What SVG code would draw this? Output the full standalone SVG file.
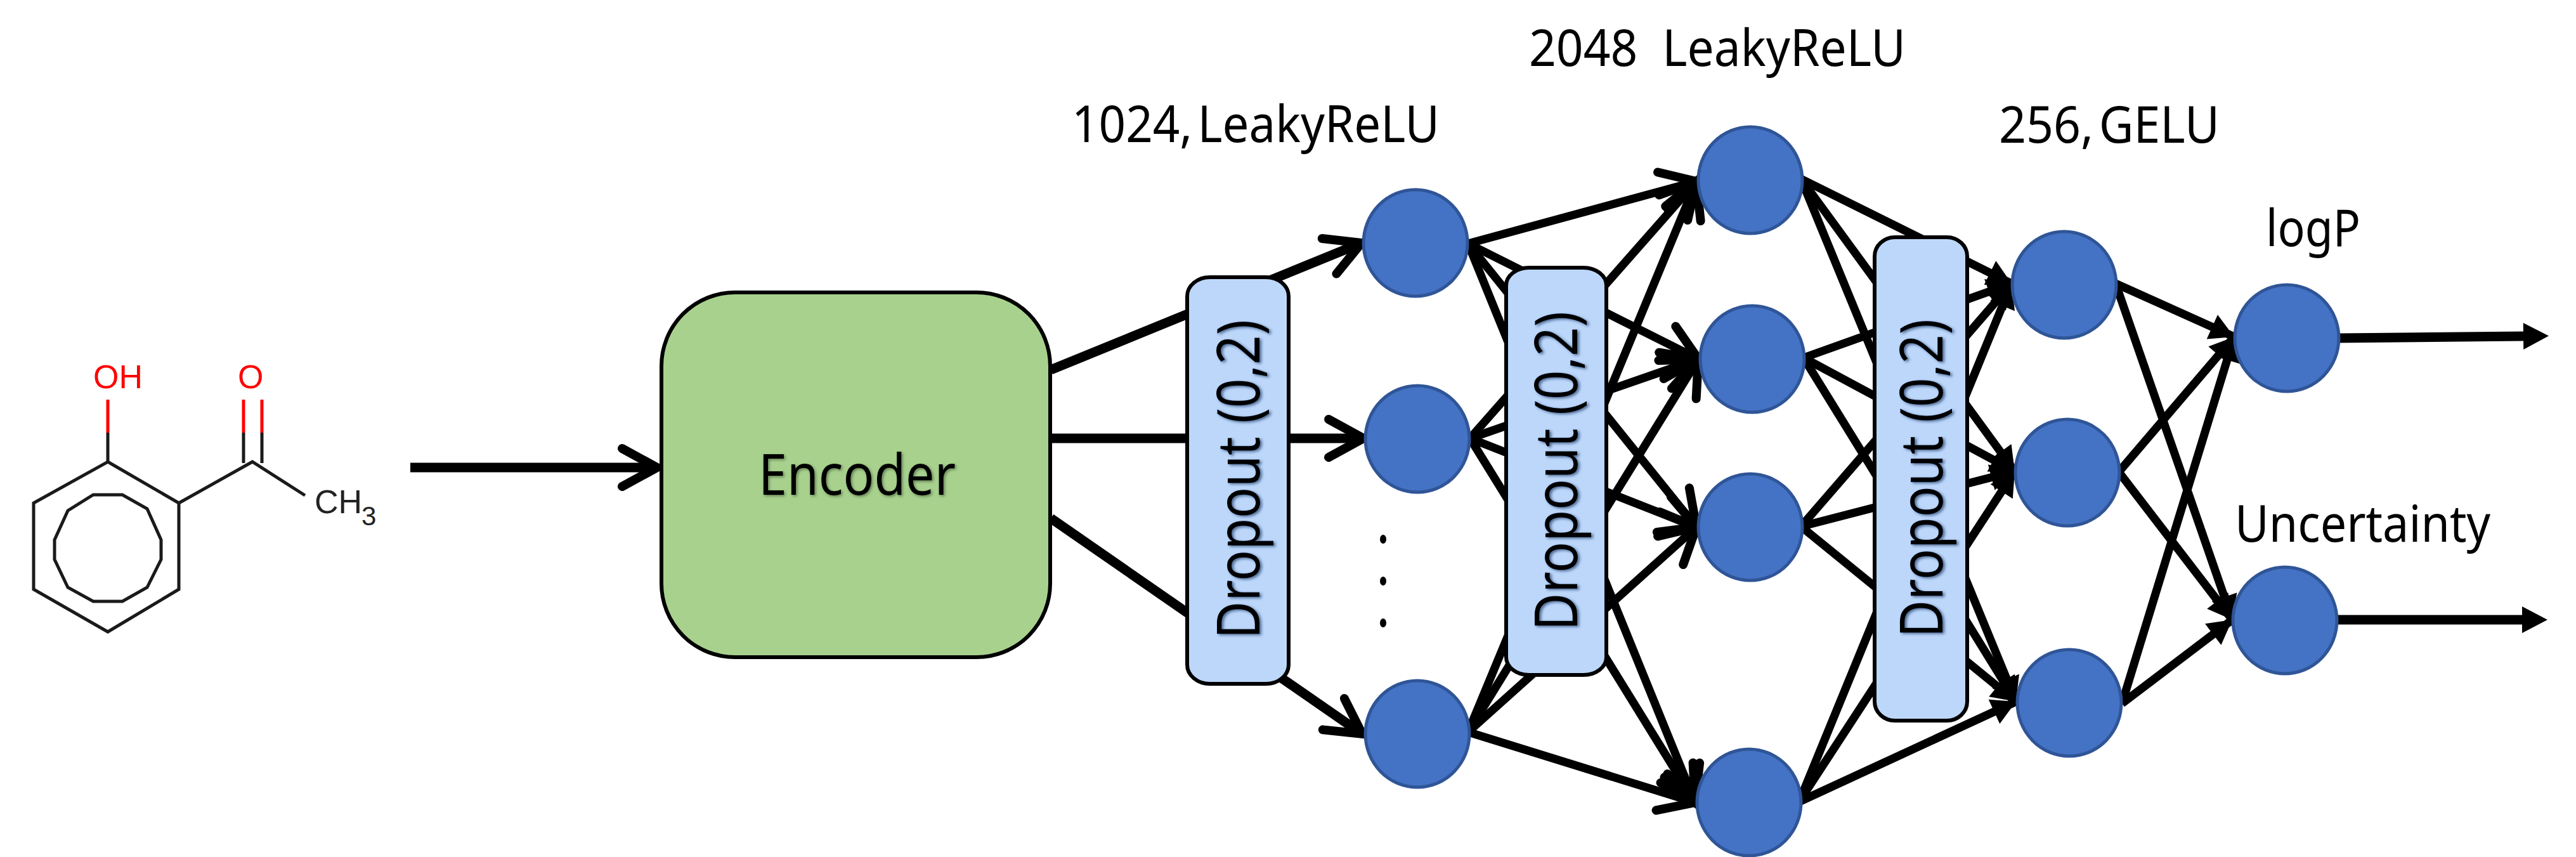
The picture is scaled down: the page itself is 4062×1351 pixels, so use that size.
<svg xmlns="http://www.w3.org/2000/svg" width="4062" height="1351" viewBox="0 0 4062 1351">
<style>
.lbl{font-family:"Noto Sans","Open Sans",sans-serif;font-size:81px;fill:#000}
.tight{word-spacing:-12px}
.drop{font-family:"Noto Sans","Open Sans",sans-serif;font-size:94px;fill:#000;filter:url(#shDrop)}
.enc{font-family:"Noto Sans","Open Sans",sans-serif;font-size:90px;fill:#000;filter:url(#shEnc)}
.nd{fill:#4472C4;stroke:#2F5597;stroke-width:5}
.dr{fill:#BDD7FB;stroke:#000;stroke-width:6}
.a{fill:none;stroke:#000;stroke-width:15}
.b{fill:none;stroke:#000;stroke-width:13}
.ch{marker-end:url(#chev)}
.tr{marker-end:url(#tri)}
.bond{fill:none;stroke:#1a1a1a;stroke-width:5}
.red{fill:none;stroke:#ff0000;stroke-width:5}
.at{font-family:"Liberation Sans",Arial,sans-serif;font-size:52px}
</style>
<defs>
<filter id="shDrop" x="-10%" y="-20%" width="120%" height="140%"><feDropShadow dx="-2" dy="3" stdDeviation="2" flood-color="#1F3864" flood-opacity="0.7"/></filter>
<filter id="shEnc" x="-10%" y="-20%" width="120%" height="140%"><feDropShadow dx="2" dy="2" stdDeviation="2" flood-color="#33472A" flood-opacity="0.6"/></filter>
<marker id="chev" markerUnits="userSpaceOnUse" viewBox="-75 -45 90 90" refX="0" refY="0" markerWidth="90" markerHeight="90" orient="auto"><path d="M-55,-30 L0,0 L-55,30" fill="none" stroke="#000" stroke-width="14" stroke-linecap="round"/></marker>
<marker id="tri" markerUnits="userSpaceOnUse" viewBox="-50 -30 60 60" refX="0" refY="0" markerWidth="60" markerHeight="60" orient="auto"><path d="M-38,-21 L0,0 L-38,21 Z" fill="#000"/></marker>
<marker id="triOut" markerUnits="userSpaceOnUse" viewBox="-5 -30 60 60" refX="0" refY="0" markerWidth="60" markerHeight="60" orient="auto"><path d="M0,-21 L40,0 L0,21 Z" fill="#000"/></marker>
</defs>
<g id="molecule">
<path class="bond" d="M170,728 L282,793 L282,929 L170,996 L53,929 L53,793 Z"/>
<path class="bond" d="M147,780 L193,780 L232,802 L254,851 L254,882 L232,926 L193,948 L147,948 L107,926 L86,882 L86,851 L107,805 Z"/>
<path class="bond" d="M282,793 L398,728 L481,781"/>
<path class="bond" d="M170,728 L170,682 M384,730 L384,682 M413,730 L413,682"/>
<path class="red" d="M170,682 L170,630 M384,682 L384,630 M413,682 L413,630"/>
<text class="at" x="147" y="612" fill="#ff0000">OH</text>
<text class="at" x="375" y="612" fill="#ff0000">O</text>
<text class="at" x="496" y="809" fill="#222">CH</text>
<text class="at" x="570" y="828" fill="#222" style="font-size:42px">3</text>
</g>
<g id="connectors">
<path class="a ch" d="M647,737 L1036,737"/>
<path class="a ch" d="M1657,583 L2147,383"/>
<path class="a ch" d="M1657,691 L2150,691"/>
<path class="a ch" d="M1657,817 L2148,1157"/>
<!-- L1 to L2 -->
<path class="b ch" d="M2315,384 L2675,286"/>
<path class="b ch" d="M2315,384 L2678,566"/>
<path class="b ch" d="M2315,384 L2675,831"/>
<path class="b ch" d="M2315,384 L2673,1265"/>
<path class="b ch" d="M2318,691 L2675,286"/>
<path class="b ch" d="M2318,691 L2678,566"/>
<path class="b ch" d="M2318,691 L2675,831"/>
<path class="b ch" d="M2318,691 L2673,1265"/>
<path class="b ch" d="M2315,1154 L2675,286"/>
<path class="b ch" d="M2315,1154 L2678,566"/>
<path class="b ch" d="M2315,1154 L2675,831"/>
<path class="b ch" d="M2315,1154 L2673,1265"/>
<!-- L2 to L3 -->
<path class="b tr" d="M2840,282 L3172,447"/>
<path class="b tr" d="M2840,282 L3177,743"/>
<path class="b tr" d="M2840,282 L3179,1106"/>
<path class="b tr" d="M2844,564 L3172,447"/>
<path class="b tr" d="M2844,564 L3177,743"/>
<path class="b tr" d="M2844,564 L3179,1106"/>
<path class="b tr" d="M2840,830 L3172,447"/>
<path class="b tr" d="M2840,830 L3177,743"/>
<path class="b tr" d="M2840,830 L3179,1106"/>
<path class="b tr" d="M2837,1264 L3172,447"/>
<path class="b tr" d="M2837,1264 L3177,743"/>
<path class="b tr" d="M2837,1264 L3179,1106"/>
<!-- L3 to L4 -->
<path class="b tr" d="M3336,447 L3523,531"/>
<path class="b tr" d="M3336,447 L3520,977"/>
<path class="b tr" d="M3341,744 L3523,531"/>
<path class="b tr" d="M3341,744 L3520,977"/>
<path class="b tr" d="M3346,1109 L3523,531"/>
<path class="b tr" d="M3346,1109 L3520,977"/>
<!-- outputs -->
<path class="a" style="marker-end:url(#triOut)" d="M3689,533 L3979,530"/>
<path class="a" style="marker-end:url(#triOut)" d="M3687,977 L3977,977"/>
</g>
<g id="encoder">
<rect x="1043" y="461" width="613" height="575" rx="116" ry="116" fill="#A9D18E" stroke="#000" stroke-width="6"/>
<text class="enc" x="1196" y="780" textLength="311" lengthAdjust="spacingAndGlyphs">Encoder</text>
</g>
<g id="L1n1"><ellipse class="nd" cx="2232" cy="383" rx="82" ry="84"/></g>
<g id="L1n2"><ellipse class="nd" cx="2235" cy="692" rx="82" ry="84"/></g>
<g id="L1n3"><ellipse class="nd" cx="2235" cy="1157" rx="82" ry="84"/></g>
<g id="L2n1"><ellipse class="nd" cx="2760" cy="284" rx="82" ry="84"/></g>
<g id="L2n2"><ellipse class="nd" cx="2763" cy="566" rx="82" ry="84"/></g>
<g id="L2n3"><ellipse class="nd" cx="2760" cy="831" rx="82" ry="84"/></g>
<g id="L2n4"><ellipse class="nd" cx="2758" cy="1265" rx="82" ry="84"/></g>
<g id="L3n1"><ellipse class="nd" cx="3255" cy="449" rx="82" ry="84"/></g>
<g id="L3n2"><ellipse class="nd" cx="3260" cy="745" rx="82" ry="84"/></g>
<g id="L3n3"><ellipse class="nd" cx="3263" cy="1108" rx="82" ry="84"/></g>
<g id="L4n1"><ellipse class="nd" cx="3606" cy="533" rx="82" ry="84"/></g>
<g id="L4n2"><ellipse class="nd" cx="3603" cy="978" rx="82" ry="84"/></g>
<g id="dots"><ellipse cx="2181" cy="850" rx="5" ry="7"/><ellipse cx="2181" cy="916" rx="5" ry="7"/><ellipse cx="2181" cy="982" rx="5" ry="7"/></g>
<g id="dropout1">
<rect class="dr" x="1872" y="437" width="160" height="641" rx="36" ry="30"/>
<text class="drop" transform="translate(1986,1007) rotate(-90)" textLength="503" lengthAdjust="spacingAndGlyphs">Dropout (0,2)</text>
</g>
<g id="dropout2">
<rect class="dr" x="2375" y="422" width="158" height="642" rx="36" ry="28"/>
<text class="drop" transform="translate(2487,994) rotate(-90)" textLength="503" lengthAdjust="spacingAndGlyphs">Dropout (0,2)</text>
</g>
<g id="dropout3">
<rect class="dr" x="2956" y="374" width="146" height="762" rx="32" ry="30"/>
<text class="drop" transform="translate(3063,1005) rotate(-90)" textLength="502" lengthAdjust="spacingAndGlyphs">Dropout (0,2)</text>
</g>
<g id="labels">
<text class="lbl tight" x="1690" y="224" textLength="580" lengthAdjust="spacingAndGlyphs">1024, LeakyReLU</text>
<text class="lbl" x="2411" y="104" textLength="594" lengthAdjust="spacingAndGlyphs" xml:space="preserve">2048  LeakyReLU</text>
<text class="lbl tight" x="3152" y="225" textLength="348" lengthAdjust="spacingAndGlyphs">256, GELU</text>
<text class="lbl" x="3573" y="388" textLength="149" lengthAdjust="spacingAndGlyphs">logP</text>
<text class="lbl" x="3524" y="854" textLength="403" lengthAdjust="spacingAndGlyphs">Uncertainty</text>
</g>
</svg>
